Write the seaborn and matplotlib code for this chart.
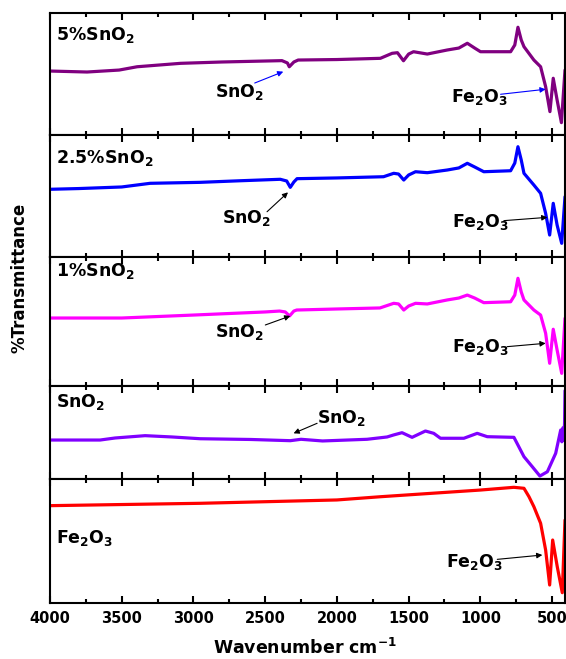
import matplotlib
matplotlib.use('Agg')
import matplotlib.pyplot as plt
import seaborn as sns
from matplotlib.ticker import MultipleLocator

sns.set_style('ticks')
plt.rcParams['font.family'] = ['DejaVu Sans']
plt.rcParams['font.weight'] = 'bold'
plt.rcParams['mathtext.fontset'] = 'dejavusans'
plt.rcParams['mathtext.default'] = 'bf'
plt.rcParams['text.color'] = 'black'
plt.rcParams['axes.labelcolor'] = 'black'
plt.rcParams['xtick.color'] = 'black'
plt.rcParams['xtick.labelcolor'] = 'black'

# ---------------- data (wavenumber cm-1, relative %T within each panel) ----------------
samples = ['5%SnO$_2$', '2.5%SnO$_2$', '1%SnO$_2$', 'SnO$_2$', 'Fe$_2$O$_3$']
colors = ['#800080', '#0000FF', '#FF00FF', '#8000FF', '#FF0000']

wn_5 = [4000, 3742, 3518, 3393, 3090, 2800, 2383, 2345, 2332, 2300, 2270, 2000, 1697, 1615,
        1578, 1536, 1500, 1466, 1370, 1231, 1150, 1091, 1040, 999, 789, 760, 738, 715, 696,
        627, 580, 545, 515, 492, 465, 435, 410]
t_5 = [52.3, 51.5, 53.1, 55.8, 58.6, 59.7, 60.8, 58.9, 55.8, 59.7, 61.3, 61.7, 62.7, 66.8,
       67.3, 60.7, 66.2, 68.1, 66.2, 69.5, 71.1, 75.0, 71.1, 68.1, 68.1, 73.6, 88.1, 77.7, 72.2,
       61.3, 55.8, 39.5, 19.1, 46.4, 28.6, 10.1, 53.1]

wn_25 = [4000, 3800, 3500, 3302, 2953, 2674, 2395, 2350, 2325, 2300, 2278, 2000, 1675, 1604,
         1570, 1534, 1500, 1452, 1370, 1231, 1150, 1091, 1040, 976, 789, 760, 738, 715, 696,
         627, 580, 545, 517, 492, 465, 433, 410]
t_25 = [55.5, 56.1, 57.4, 60.4, 61.2, 62.5, 63.7, 62.3, 57.1, 61.5, 64.2, 64.8, 65.8, 68.6,
        68.0, 63.1, 67.2, 69.9, 69.1, 71.3, 73.0, 76.8, 73.8, 69.9, 70.7, 77.0, 90.4, 79.5, 68.6,
        59.0, 52.2, 35.8, 18.0, 44.0, 26.2, 11.2, 49.4]

wn_1 = [4000, 3500, 3000, 2500, 2400, 2360, 2330, 2300, 2280, 2000, 1700, 1604, 1570, 1534,
        1500, 1452, 1370, 1231, 1150, 1091, 1040, 976, 789, 760, 738, 715, 696, 627, 580, 545,
        517, 492, 465, 433, 410]
t_1 = [52.7, 52.7, 55.0, 57.4, 58.1, 57.4, 54.3, 58.1, 58.9, 59.7, 60.5, 64.1, 63.6, 58.9,
       62.0, 64.1, 63.6, 66.7, 68.2, 70.5, 68.2, 64.6, 65.3, 70.5, 83.5, 72.9, 66.7, 58.9, 55.0,
       40.9, 17.6, 44.0, 27.9, 9.8, 52.5]

wn_sn = [4000, 3651, 3546, 3337, 3150, 2953, 2600, 2325, 2250, 2100, 1790, 1650, 1606, 1546,
         1476, 1383, 1325, 1278, 1115, 1022, 952, 766, 696, 638, 585, 533, 475, 440, 432, 425,
         418, 413, 410]
t_sn = [41.9, 41.9, 44.1, 46.6, 45.2, 43.3, 42.5, 41.2, 42.7, 40.9, 42.7, 45.2, 47.3, 49.8,
        44.8, 51.6, 49.1, 43.8, 43.8, 49.1, 45.5, 44.8, 24.0, 13.2, 3.2, 7.8, 27.6, 52.7, 40.0,
        55.0, 42.0, 60.0, 95.0]

wn_fe = [4000, 2953, 2000, 1697, 999, 766, 696, 661, 627, 580, 545, 517, 496, 464, 429, 410]
t_fe = [78.5, 80.4, 83.1, 85.7, 91.1, 93.3, 92.5, 85.7, 77.7, 64.3, 42.7, 14.5, 50.8, 29.3,
        8.3, 66.9]

wavenumbers = [wn_5, wn_25, wn_1, wn_sn, wn_fe]
transmittance = [t_5, t_25, t_1, t_sn, t_fe]

label_y = [0.777, 0.768, 0.853, 0.777, 0.481]

# annotations: panel, text, text position, arrow tail, arrow tip, arrow colour
ann_panel = [0, 0, 1, 1, 2, 2, 3, 4]
ann_text = ['SnO$_2$', 'Fe$_2$O$_3$', 'SnO$_2$', 'Fe$_2$O$_3$', 'SnO$_2$', 'Fe$_2$O$_3$',
            'SnO$_2$', 'Fe$_2$O$_3$']
ann_tx = [2848, 1208, 2802, 1196, 2848, 1196, 2138, 1243]
ann_ty = [31.1, 27.2, 28.1, 24.3, 38.0, 26.6, 60.5, 29.3]
ann_tail = [(2573, 42.5), (859, 33.3), (2487, 37.1), (836, 29.8), (2499, 47.3), (813, 30.5),
            (2138, 59.9), (882, 35.2)]
ann_tip = [(2374, 51.8), (545, 37.4), (2341, 53.0), (533, 32.5), (2325, 54.3), (545, 33.1),
           (2302, 49.1), (568, 38.7)]
ann_color = ['#0000FF', '#0000FF', 'black', 'black', 'black', 'black', 'black', 'black']

# ---------------- figure ----------------
fig = plt.figure(figsize=(5.66, 6.59), dpi=100)
gs = fig.add_gridspec(5, 1, height_ratios=[122.3, 122, 129, 93, 124], hspace=0,
                      left=50 / 566, right=565 / 566, top=1 - 12.7 / 659, bottom=1 - 603 / 659)
axes = [fig.add_subplot(gs[i]) for i in range(5)]

for i, ax in enumerate(axes):
    sns.lineplot(x=wavenumbers[i], y=transmittance[i], ax=ax, color=colors[i],
                 linewidth=2.3, legend=False, estimator=None, sort=False)
    ax.set_xlim(4000, 410)
    ax.set_ylim(0, 100)
    ax.set_yticks([])
    ax.set_ylabel('')
    ax.set_xlabel('')
    for s in ax.spines.values():
        s.set_linewidth(1.5)
        s.set_color('black')
    ax.xaxis.set_major_locator(MultipleLocator(500))
    ax.xaxis.set_minor_locator(MultipleLocator(250))
    ax.tick_params(axis='x', which='both', direction='in', top=True, bottom=True,
                   width=1.5, color='black', labelcolor='black')
    ax.tick_params(axis='x', which='major', length=5, pad=6, labelsize=10.5)
    ax.tick_params(axis='x', which='minor', length=3)
    if i < 4:
        ax.tick_params(axis='x', which='both', labelbottom=False)
    ax.text(0.012, label_y[i], samples[i], transform=ax.transAxes, fontsize=12.5,
            fontweight='bold', va='baseline', ha='left', color='black')

for lab in axes[-1].get_xticklabels():
    lab.set_fontweight('bold')

for k in range(len(ann_panel)):
    ax = axes[ann_panel[k]]
    ax.text(ann_tx[k], ann_ty[k], ann_text[k], fontsize=12.5, fontweight='bold',
            va='baseline', ha='left', color='black')
    ax.annotate('', xy=ann_tip[k], xytext=ann_tail[k],
                arrowprops=dict(arrowstyle='-|>', color=ann_color[k], lw=0.8,
                                mutation_scale=8, shrinkA=0, shrinkB=0))

fig.text(0.035, 1 - 278 / 659, '%Transmittance', rotation=90, fontsize=12,
         fontweight='bold', ha='center', va='center', color='black')
fig.text(305 / 566, 1 - 648 / 659, 'Wavenumber cm$^{-1}$', fontsize=12.5,
         fontweight='bold', ha='center', va='center', color='black')

fig.savefig('out.png', dpi=100)
